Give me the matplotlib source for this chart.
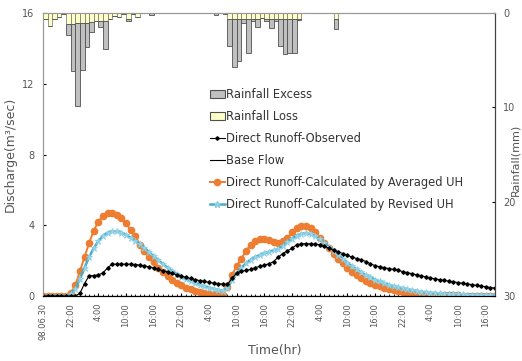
import numpy as np
import matplotlib
matplotlib.use('Agg')
import matplotlib.pyplot as plt
from matplotlib.patches import Patch
from matplotlib.lines import Line2D

# hourly series, hour 0 = 98.06.30 16:00
hours = np.arange(99)

rain_total = np.zeros(99)
rain_loss = np.zeros(99)
rain_hours = [0, 1, 2, 3, 4, 5, 6, 7, 8, 9, 10, 11, 12, 13, 14, 15, 16, 17, 18, 19, 20, 23,
              37, 39, 40, 41, 42, 43, 44, 45, 46, 47, 48, 49, 50, 51, 52, 53, 54, 55, 63]
rain_tot_vals = [0.6, 1.4, 0.6, 0.4, 0.1, 2.3, 6.1, 9.9, 6.0, 3.6, 2.0, 0.9, 1.45, 3.85, 0.6,
                 0.35, 0.45, 0.15, 0.9, 0.1, 0.45, 0.2,
                 0.2, 0.15, 3.5, 5.7, 5.1, 1.1, 4.2, 0.8, 1.45, 0.5, 0.8, 1.6, 0.9, 3.5,
                 4.3, 4.2, 4.2, 0.75, 1.7]
rain_loss_vals = [0.6, 1.4, 0.6, 0.4, 0.1, 1.2, 1.2, 1.1, 1.1, 1.1, 1.0, 0.9, 0.9, 0.9, 0.6,
                  0.35, 0.45, 0.15, 0.6, 0.1, 0.45, 0.05,
                  0.05, 0.05, 0.64, 0.64, 0.64, 0.64, 0.64, 0.64, 0.64, 0.5, 0.64, 0.64, 0.64,
                  0.64, 0.64, 0.64, 0.64, 0.64, 0.64]
rain_total[rain_hours] = rain_tot_vals
rain_loss[rain_hours] = rain_loss_vals
rain_excess = rain_total - rain_loss

q_obs = [0, 0, 0, 0, 0, 0, 0, 0.0, 0.15, 0.7, 1.15, 1.15, 1.2, 1.3, 1.6, 1.8, 1.8, 1.8, 1.8,
         1.8, 1.78, 1.75, 1.7, 1.65, 1.58, 1.5, 1.43, 1.36, 1.28, 1.2, 1.12, 1.05, 0.99, 0.93,
         0.87, 0.82, 0.77, 0.73, 0.7, 0.67, 0.66, 1.0, 1.3, 1.4, 1.45, 1.5, 1.6, 1.68, 1.75,
         1.82, 1.95, 2.2, 2.4, 2.55, 2.7, 2.9, 2.95, 2.96, 2.95, 2.93, 2.9, 2.8, 2.7, 2.6, 2.5,
         2.4, 2.3, 2.2, 2.12, 2.05, 1.95, 1.82, 1.72, 1.65, 1.6, 1.55, 1.5, 1.45, 1.38, 1.32,
         1.26, 1.2, 1.14, 1.08, 1.02, 0.97, 0.92, 0.88, 0.84, 0.8, 0.76, 0.72, 0.68, 0.64, 0.6,
         0.56, 0.52, 0.48, 0.45]
q_avg = [0, 0, 0, 0, 0, 0, 0.15, 0.6, 1.4, 2.2, 3.0, 3.7, 4.2, 4.55, 4.7, 4.7, 4.6, 4.4, 4.1,
         3.75, 3.4, 2.9, 2.55, 2.2, 1.9, 1.6, 1.35, 1.12, 0.92, 0.75, 0.6, 0.48, 0.38, 0.3,
         0.23, 0.18, 0.14, 0.11, 0.09, 0.08, 0.5, 1.2, 1.7, 2.1, 2.55, 2.9, 3.1, 3.2, 3.2, 3.15,
         3.08, 3.02, 3.1, 3.3, 3.6, 3.85, 3.98, 3.98, 3.85, 3.6, 3.3, 3.0, 2.7, 2.4, 2.1, 1.85,
         1.6, 1.38, 1.18, 1.0, 0.86, 0.74, 0.64, 0.56, 0.48, 0.41, 0.35, 0.29, 0.24, 0.19,
         0.15, 0.12, 0.09, 0.07, 0.05, 0.04, 0.04, 0.03, 0.03, 0.03, 0.03, 0.02, 0.02, 0.02,
         0.02, 0.02, 0.02, 0.02, 0.02]
q_rev = [0, 0, 0, 0, 0, 0, 0.1, 0.4, 0.95, 1.6, 2.2, 2.7, 3.1, 3.4, 3.58, 3.66, 3.66, 3.58,
         3.45, 3.3, 3.12, 2.92, 2.7, 2.48, 2.25, 2.02, 1.8, 1.6, 1.42, 1.25, 1.1, 0.96, 0.84,
         0.73, 0.64, 0.55, 0.48, 0.41, 0.35, 0.3, 0.45, 0.9, 1.3, 1.6, 1.85, 2.05, 2.2, 2.32,
         2.42, 2.5, 2.58, 2.68, 2.85, 3.05, 3.25, 3.42, 3.52, 3.56, 3.5, 3.38, 3.2, 3.0, 2.78,
         2.56, 2.33, 2.1, 1.88, 1.68, 1.5, 1.33, 1.18, 1.05, 0.93, 0.82, 0.72, 0.63, 0.56,
         0.49, 0.43, 0.38, 0.33, 0.29, 0.25, 0.22, 0.19, 0.17, 0.15, 0.13, 0.12, 0.11, 0.1,
         0.09, 0.08, 0.07, 0.06, 0.06, 0.05, 0.05, 0.05]
q_base = np.zeros(99)

tick_hours = np.arange(0, 97, 6)
tick_labels = ['98.06.30'] + ['22:00', '4:00', '10:00', '16:00'] * 4

grey_txt = '#555555'

fig = plt.figure(figsize=(5.22, 3.61), dpi=100)
ax = fig.add_axes([43 / 522, 1 - 296 / 361, 452 / 522, 283 / 361])
ax2 = ax.twinx()

ax.plot(hours, q_base, color='black', lw=0.8, zorder=3)
ax.plot(hours, q_obs, color='black', lw=0.8, marker='D', ms=1.8, zorder=4)
ax.plot(hours, q_avg, color='#ED7D31', lw=1.4, marker='o', ms=4.5, zorder=2)
ax.plot(hours, q_rev, color='#4BACC6', lw=1.8, marker='*', ms=5, mfc='#9ad8ea',
        mec='#8ccfe4', mew=0.6, zorder=3)

ax.set_xlim(0, 98)
ax.set_ylim(0, 16)
ax.set_yticks([0, 4, 8, 12, 16])
ax.set_xticks(tick_hours)
ax.set_xticklabels(tick_labels, rotation=90)
ax.set_xticks(hours, minor=True)
ax.tick_params(axis='x', which='minor', direction='in', length=1.5, color='black')
ax.tick_params(axis='x', which='major', direction='in', length=2, labelsize=6,
               labelcolor=grey_txt, pad=5)
ax.tick_params(axis='y', direction='in', length=2, labelsize=7, labelcolor=grey_txt, pad=6)
ax.set_xlabel('Time(hr)', fontsize=9, color=grey_txt)
ax.xaxis.set_label_coords(0.513, -0.168)
ax.set_ylabel('Discharge(m³/sec)', fontsize=9, color=grey_txt)
ax.yaxis.set_label_coords(-0.058, 0.5)

ax2.bar(hours, rain_loss, width=1, align='edge', color='#FFFFC8', edgecolor='#707070', lw=0.5)
ax2.bar(hours, rain_excess, bottom=rain_loss, width=1, align='edge', color='#C0C0C0',
        edgecolor='#505050', lw=0.6)
ax2.set_ylim(30, 0)
ax2.set_yticks([0, 10, 20, 30])
ax2.tick_params(axis='y', direction='in', length=2, labelsize=7, labelcolor=grey_txt, pad=6)
ax2.set_ylabel('Rainfall(mm)', fontsize=8, color=grey_txt)
ax2.yaxis.set_label_coords(1.035, 0.48)

for a in (ax, ax2):
    for s in ('left', 'top'):
        a.spines[s].set_color('#999999')
    a.spines['right'].set_color('#444444')
    a.spines['bottom'].set_color('black')

handles = [
    Patch(facecolor='#C0C0C0', edgecolor='#505050', lw=0.8),
    Patch(facecolor='#FFFFC8', edgecolor='#505050', lw=0.8),
    Line2D([], [], color='black', lw=0.8, marker='D', ms=1.8),
    Line2D([], [], color='black', lw=0.8),
    Line2D([], [], color='#ED7D31', lw=1.4, marker='o', ms=4.5),
    Line2D([], [], color='#4BACC6', lw=1.8, marker='*', ms=5, mfc='#9ad8ea', mec='#8ccfe4'),
]
labels = ['Rainfall Excess', 'Rainfall Loss', 'Direct Runoff-Observed', 'Base Flow',
          'Direct Runoff-Calculated by Averaged UH', 'Direct Runoff-Calculated by Revised UH']
leg = ax2.legend(handles, labels, loc='upper left', bbox_to_anchor=(204 / 522, 1 - 82 / 361),
                 bbox_transform=fig.transFigure, frameon=False, fontsize=8.3,
                 handlelength=1.3, handletextpad=0.1, labelspacing=0.78, borderpad=0)
for t in leg.get_texts():
    t.set_color('#333333')

fig.savefig('out.png', dpi=100)
